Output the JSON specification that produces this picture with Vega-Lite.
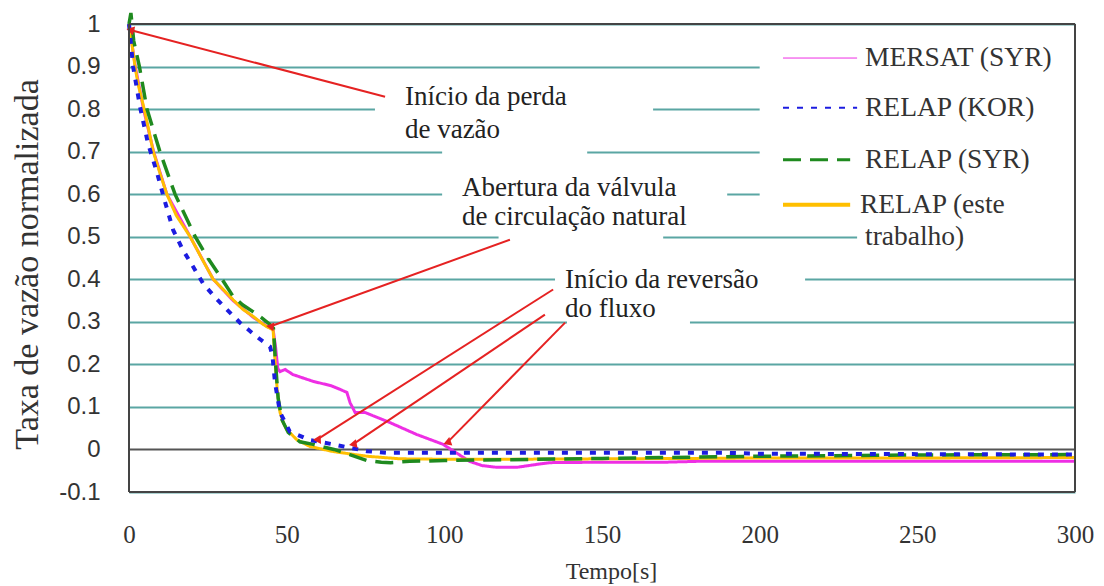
{
  "$schema": "https://vega.github.io/schema/vega-lite/v6.json",
  "width": 946,
  "height": 468,
  "autosize": {"type": "none"},
  "padding": {"left": 129, "top": 24, "right": 29, "bottom": 94},
  "background": "white",
  "config": {"view": {"stroke": null}},
  "datasets": {
    "curves": [
      {"s": "MERSAT (SYR)", "t": 0, "v": 1.0},
      {"s": "MERSAT (SYR)", "t": 2, "v": 0.9},
      {"s": "MERSAT (SYR)", "t": 4.6, "v": 0.8},
      {"s": "MERSAT (SYR)", "t": 7.8, "v": 0.7},
      {"s": "MERSAT (SYR)", "t": 12, "v": 0.6},
      {"s": "MERSAT (SYR)", "t": 19.4, "v": 0.5},
      {"s": "MERSAT (SYR)", "t": 26.7, "v": 0.4},
      {"s": "MERSAT (SYR)", "t": 33, "v": 0.35},
      {"s": "MERSAT (SYR)", "t": 39.5, "v": 0.31},
      {"s": "MERSAT (SYR)", "t": 43.6, "v": 0.29},
      {"s": "MERSAT (SYR)", "t": 45.7, "v": 0.282},
      {"s": "MERSAT (SYR)", "t": 46.5, "v": 0.24},
      {"s": "MERSAT (SYR)", "t": 47.2, "v": 0.19},
      {"s": "MERSAT (SYR)", "t": 47.9, "v": 0.183},
      {"s": "MERSAT (SYR)", "t": 49.5, "v": 0.188},
      {"s": "MERSAT (SYR)", "t": 52, "v": 0.176},
      {"s": "MERSAT (SYR)", "t": 58.4, "v": 0.16},
      {"s": "MERSAT (SYR)", "t": 64, "v": 0.15},
      {"s": "MERSAT (SYR)", "t": 67, "v": 0.141},
      {"s": "MERSAT (SYR)", "t": 69.1, "v": 0.134},
      {"s": "MERSAT (SYR)", "t": 70.1, "v": 0.11},
      {"s": "MERSAT (SYR)", "t": 71.7, "v": 0.087},
      {"s": "MERSAT (SYR)", "t": 74.8, "v": 0.087},
      {"s": "MERSAT (SYR)", "t": 82.8, "v": 0.063},
      {"s": "MERSAT (SYR)", "t": 91.3, "v": 0.035},
      {"s": "MERSAT (SYR)", "t": 99.6, "v": 0.012},
      {"s": "MERSAT (SYR)", "t": 104, "v": -0.009},
      {"s": "MERSAT (SYR)", "t": 108, "v": -0.028},
      {"s": "MERSAT (SYR)", "t": 112, "v": -0.038},
      {"s": "MERSAT (SYR)", "t": 116.7, "v": -0.042},
      {"s": "MERSAT (SYR)", "t": 123, "v": -0.042},
      {"s": "MERSAT (SYR)", "t": 129.4, "v": -0.035},
      {"s": "MERSAT (SYR)", "t": 133.5, "v": -0.031},
      {"s": "MERSAT (SYR)", "t": 150, "v": -0.03},
      {"s": "MERSAT (SYR)", "t": 170, "v": -0.03},
      {"s": "MERSAT (SYR)", "t": 180, "v": -0.028},
      {"s": "MERSAT (SYR)", "t": 300, "v": -0.028},
      {"s": "RELAP (este trabalho)", "t": 0, "v": 1.0},
      {"s": "RELAP (este trabalho)", "t": 1, "v": 0.95},
      {"s": "RELAP (este trabalho)", "t": 2, "v": 0.895},
      {"s": "RELAP (este trabalho)", "t": 3, "v": 0.855},
      {"s": "RELAP (este trabalho)", "t": 4.5, "v": 0.81},
      {"s": "RELAP (este trabalho)", "t": 6, "v": 0.76},
      {"s": "RELAP (este trabalho)", "t": 7.7, "v": 0.7},
      {"s": "RELAP (este trabalho)", "t": 10, "v": 0.645},
      {"s": "RELAP (este trabalho)", "t": 12, "v": 0.6},
      {"s": "RELAP (este trabalho)", "t": 15, "v": 0.55},
      {"s": "RELAP (este trabalho)", "t": 19.4, "v": 0.5},
      {"s": "RELAP (este trabalho)", "t": 23, "v": 0.45},
      {"s": "RELAP (este trabalho)", "t": 26.7, "v": 0.4},
      {"s": "RELAP (este trabalho)", "t": 30, "v": 0.375},
      {"s": "RELAP (este trabalho)", "t": 33, "v": 0.352},
      {"s": "RELAP (este trabalho)", "t": 36, "v": 0.33},
      {"s": "RELAP (este trabalho)", "t": 39.5, "v": 0.312},
      {"s": "RELAP (este trabalho)", "t": 42, "v": 0.297},
      {"s": "RELAP (este trabalho)", "t": 43.6, "v": 0.289},
      {"s": "RELAP (este trabalho)", "t": 45.7, "v": 0.281},
      {"s": "RELAP (este trabalho)", "t": 46.3, "v": 0.21},
      {"s": "RELAP (este trabalho)", "t": 47, "v": 0.141},
      {"s": "RELAP (este trabalho)", "t": 47.9, "v": 0.087},
      {"s": "RELAP (este trabalho)", "t": 49, "v": 0.062},
      {"s": "RELAP (este trabalho)", "t": 50, "v": 0.047},
      {"s": "RELAP (este trabalho)", "t": 53.2, "v": 0.023},
      {"s": "RELAP (este trabalho)", "t": 57.4, "v": 0.007},
      {"s": "RELAP (este trabalho)", "t": 64.8, "v": -0.005},
      {"s": "RELAP (este trabalho)", "t": 75.5, "v": -0.016},
      {"s": "RELAP (este trabalho)", "t": 86, "v": -0.022},
      {"s": "RELAP (este trabalho)", "t": 100, "v": -0.023},
      {"s": "RELAP (este trabalho)", "t": 120, "v": -0.023},
      {"s": "RELAP (este trabalho)", "t": 150, "v": -0.022},
      {"s": "RELAP (este trabalho)", "t": 180, "v": -0.021},
      {"s": "RELAP (este trabalho)", "t": 200, "v": -0.02},
      {"s": "RELAP (este trabalho)", "t": 250, "v": -0.02},
      {"s": "RELAP (este trabalho)", "t": 300, "v": -0.019},
      {"s": "RELAP (SYR)", "t": 0, "v": 1.0},
      {"s": "RELAP (SYR)", "t": 0.6, "v": 1.026},
      {"s": "RELAP (SYR)", "t": 1.5, "v": 0.96},
      {"s": "RELAP (SYR)", "t": 3.3, "v": 0.9},
      {"s": "RELAP (SYR)", "t": 5.7, "v": 0.8},
      {"s": "RELAP (SYR)", "t": 9.8, "v": 0.7},
      {"s": "RELAP (SYR)", "t": 14.6, "v": 0.6},
      {"s": "RELAP (SYR)", "t": 21, "v": 0.5},
      {"s": "RELAP (SYR)", "t": 25, "v": 0.45},
      {"s": "RELAP (SYR)", "t": 29.5, "v": 0.4},
      {"s": "RELAP (SYR)", "t": 33, "v": 0.36},
      {"s": "RELAP (SYR)", "t": 36, "v": 0.34},
      {"s": "RELAP (SYR)", "t": 39.3, "v": 0.324},
      {"s": "RELAP (SYR)", "t": 42, "v": 0.31},
      {"s": "RELAP (SYR)", "t": 44.5, "v": 0.295},
      {"s": "RELAP (SYR)", "t": 45.8, "v": 0.285},
      {"s": "RELAP (SYR)", "t": 46.5, "v": 0.2},
      {"s": "RELAP (SYR)", "t": 47.3, "v": 0.12},
      {"s": "RELAP (SYR)", "t": 48.5, "v": 0.07},
      {"s": "RELAP (SYR)", "t": 50.5, "v": 0.04},
      {"s": "RELAP (SYR)", "t": 54.2, "v": 0.018},
      {"s": "RELAP (SYR)", "t": 58.4, "v": 0.012},
      {"s": "RELAP (SYR)", "t": 62, "v": 0.005},
      {"s": "RELAP (SYR)", "t": 65, "v": 0.0},
      {"s": "RELAP (SYR)", "t": 70, "v": -0.012},
      {"s": "RELAP (SYR)", "t": 75.5, "v": -0.026},
      {"s": "RELAP (SYR)", "t": 80, "v": -0.03},
      {"s": "RELAP (SYR)", "t": 83, "v": -0.031},
      {"s": "RELAP (SYR)", "t": 89, "v": -0.028},
      {"s": "RELAP (SYR)", "t": 100, "v": -0.026},
      {"s": "RELAP (SYR)", "t": 120, "v": -0.024},
      {"s": "RELAP (SYR)", "t": 150, "v": -0.021},
      {"s": "RELAP (SYR)", "t": 200, "v": -0.016},
      {"s": "RELAP (SYR)", "t": 250, "v": -0.013},
      {"s": "RELAP (SYR)", "t": 300, "v": -0.012},
      {"s": "RELAP (KOR)", "t": 0, "v": 1.0},
      {"s": "RELAP (KOR)", "t": 1.3, "v": 0.9},
      {"s": "RELAP (KOR)", "t": 3.5, "v": 0.805},
      {"s": "RELAP (KOR)", "t": 6, "v": 0.72},
      {"s": "RELAP (KOR)", "t": 8.9, "v": 0.65},
      {"s": "RELAP (KOR)", "t": 11.5, "v": 0.58},
      {"s": "RELAP (KOR)", "t": 14, "v": 0.516},
      {"s": "RELAP (KOR)", "t": 17, "v": 0.47},
      {"s": "RELAP (KOR)", "t": 20.3, "v": 0.43},
      {"s": "RELAP (KOR)", "t": 23.5, "v": 0.39},
      {"s": "RELAP (KOR)", "t": 27, "v": 0.36},
      {"s": "RELAP (KOR)", "t": 31, "v": 0.329},
      {"s": "RELAP (KOR)", "t": 35.2, "v": 0.298},
      {"s": "RELAP (KOR)", "t": 40.5, "v": 0.265},
      {"s": "RELAP (KOR)", "t": 44.7, "v": 0.242},
      {"s": "RELAP (KOR)", "t": 45.5, "v": 0.22},
      {"s": "RELAP (KOR)", "t": 46.3, "v": 0.157},
      {"s": "RELAP (KOR)", "t": 47.9, "v": 0.087},
      {"s": "RELAP (KOR)", "t": 51, "v": 0.042},
      {"s": "RELAP (KOR)", "t": 57.4, "v": 0.022},
      {"s": "RELAP (KOR)", "t": 64.8, "v": 0.012},
      {"s": "RELAP (KOR)", "t": 70, "v": 0.004},
      {"s": "RELAP (KOR)", "t": 75.5, "v": -0.004},
      {"s": "RELAP (KOR)", "t": 81.8, "v": -0.008},
      {"s": "RELAP (KOR)", "t": 100, "v": -0.008},
      {"s": "RELAP (KOR)", "t": 130, "v": -0.008},
      {"s": "RELAP (KOR)", "t": 190, "v": -0.008},
      {"s": "RELAP (KOR)", "t": 200, "v": -0.01},
      {"s": "RELAP (KOR)", "t": 250, "v": -0.011},
      {"s": "RELAP (KOR)", "t": 300, "v": -0.012}
    ],
    "masks": [
      {"t0": 200, "t1": 300, "v0": 0.53, "v1": 0.975},
      {"t0": 230.9, "t1": 300, "v0": 0.47, "v1": 0.53},
      {"t0": 78, "t1": 166.2, "v0": 0.77, "v1": 0.83},
      {"t0": 99.3, "t1": 145.3, "v0": 0.67, "v1": 0.73},
      {"t0": 99.3, "t1": 189.7, "v0": 0.57, "v1": 0.63},
      {"t0": 117.2, "t1": 169.4, "v0": 0.47, "v1": 0.53},
      {"t0": 135.1, "t1": 214.4, "v0": 0.37, "v1": 0.43},
      {"t0": 138.9, "t1": 177.9, "v0": 0.27, "v1": 0.33}
    ],
    "arrows": [
      {"id": "a1", "t0": 81.2, "v0": 0.829, "t1": 0.4, "v1": 0.986},
      {"id": "a2", "t0": 120.8, "v0": 0.493, "t1": 44.7, "v1": 0.289},
      {"id": "a3", "t0": 134.5, "v0": 0.376, "t1": 59.6, "v1": 0.023},
      {"id": "a4", "t0": 131.9, "v0": 0.317, "t1": 71, "v1": 0.012},
      {"id": "a5", "t0": 138.3, "v0": 0.298, "t1": 100.9, "v1": 0.016}
    ],
    "notes": [
      {"text": "Início da perda", "t": 87.5, "v": 0.829},
      {"text": "de vazão", "t": 87.5, "v": 0.751},
      {"text": "Abertura da válvula", "t": 105.6, "v": 0.615},
      {"text": "de circulação natural", "t": 105.6, "v": 0.547},
      {"text": "Início da reversão", "t": 138.3, "v": 0.399},
      {"text": "do fluxo", "t": 138.3, "v": 0.329}
    ],
    "legendLines": [
      {"s": "MERSAT (SYR)", "t0": 207.4, "t1": 230.9, "v": 0.92},
      {"s": "RELAP (KOR)", "t0": 207.4, "t1": 230.9, "v": 0.803},
      {"s": "RELAP (SYR)", "t0": 207.4, "t1": 228.7, "v": 0.681},
      {"s": "RELAP (este trabalho)", "t0": 207.4, "t1": 228.7, "v": 0.575}
    ],
    "legendText": [
      {"text": "MERSAT (SYR)", "t": 233.4, "v": 0.92},
      {"text": "RELAP (KOR)", "t": 233.4, "v": 0.803},
      {"text": "RELAP (SYR)", "t": 233.4, "v": 0.681},
      {"text": "RELAP  (este", "t": 231.8, "v": 0.575},
      {"text": "trabalho)", "t": 233.4, "v": 0.5}
    ],
    "frameX": [{"t": 0}, {"t": 300}],
    "frameY": [{"v": 1}, {"v": -0.1}]
  },
  "layer": [
    {
      "data": {"name": "masks"},
      "mark": {"type": "rect", "fill": "white"},
      "encoding": {
        "x": {
          "field": "t0", "type": "quantitative",
          "scale": {"domain": [0, 300], "nice": false, "zero": false},
          "axis": {
            "title": "Tempo[s]",
            "values": [0, 50, 100, 150, 200, 250, 300],
            "grid": false, "domain": false, "ticks": false, "tickSize": 0,
            "labelFont": "Liberation Serif", "labelFontSize": 25, "labelColor": "#333333",
            "labelPadding": 30, "labelFlush": false, "labelOverlap": false,
            "titleFont": "Liberation Serif", "titleFontSize": 24, "titleFontWeight": "normal",
            "titleColor": "#333333", "titleX": 482, "titleY": 86, "titleBaseline": "alphabetic"
          }
        },
        "x2": {"field": "t1"},
        "y": {
          "field": "v0", "type": "quantitative",
          "scale": {"domain": [-0.1, 1], "nice": false, "zero": false},
          "axis": {
            "title": "Taxa de vazão normalizada",
            "values": [-0.1, 0, 0.1, 0.2, 0.3, 0.4, 0.5, 0.6, 0.7, 0.8, 0.9, 1],
            "grid": true,
            "gridColor": {"condition": {"test": "datum.value === 0", "value": "#555555"}, "value": "#5aa6a3"},
            "gridWidth": 2,
            "domain": false, "ticks": false, "tickSize": 0,
            "labelFont": "Liberation Sans", "labelFontSize": 24, "labelColor": "#333333",
            "labelPadding": 29, "labelOverlap": false,
            "labelExpr": "replace(format(datum.value, '.1~f'), '\u2212', '-')",
            "titleFont": "Liberation Serif", "titleFontSize": 34, "titleFontWeight": "normal",
            "titleColor": "#333333", "titleX": -92, "titleY": 240, "titleBaseline": "alphabetic", "titleAngle": -90
          }
        },
        "y2": {"field": "v1"}
      }
    },
    {
      "data": {"name": "curves"},
      "mark": {"type": "line", "strokeCap": "butt"},
      "encoding": {
        "x": {"field": "t", "type": "quantitative"},
        "y": {"field": "v", "type": "quantitative"},
        "color": {
          "field": "s", "type": "nominal",
          "scale": {
            "domain": ["MERSAT (SYR)", "RELAP (KOR)", "RELAP (SYR)", "RELAP (este trabalho)"],
            "range": ["#ee2ee4", "#1c1ce0", "#1f8a1f", "#ffbf00"]
          },
          "legend": null
        },
        "strokeDash": {
          "field": "s", "type": "nominal",
          "scale": {
            "domain": ["MERSAT (SYR)", "RELAP (KOR)", "RELAP (SYR)", "RELAP (este trabalho)"],
            "range": [[1, 0], [6, 8], [18, 9], [1, 0]]
          },
          "legend": null
        },
        "strokeWidth": {
          "field": "s", "type": "nominal",
          "scale": {
            "type": "ordinal",
            "domain": ["MERSAT (SYR)", "RELAP (KOR)", "RELAP (SYR)", "RELAP (este trabalho)"],
            "range": [3, 4, 3.5, 3]
          },
          "legend": null
        },
        "order": {"field": "t", "type": "quantitative"}
      }
    },
    {
      "data": {"name": "arrows"},
      "mark": {"type": "rule", "color": "#e52222", "strokeWidth": 2},
      "encoding": {
        "x": {"field": "t0", "type": "quantitative"},
        "y": {"field": "v0", "type": "quantitative"},
        "x2": {"field": "t1"},
        "y2": {"field": "v1"}
      }
    },
    {
      "data": {"name": "arrows"},
      "mark": {"type": "point", "shape": "triangle-up", "filled": true, "color": "#e52222", "opacity": 1, "size": 80},
      "encoding": {
        "x": {"field": "t1", "type": "quantitative"},
        "y": {"field": "v1", "type": "quantitative"},
        "angle": {
          "field": "id", "type": "nominal",
          "scale": {"domain": ["a1", "a2", "a3", "a4", "a5"], "range": [284.7, 250.1, 237.6, 235.9, 224.5]},
          "legend": null
        }
      }
    },
    {
      "data": {"name": "notes"},
      "mark": {"type": "text", "align": "left", "baseline": "middle", "font": "Liberation Serif", "fontSize": 27, "color": "#222222"},
      "encoding": {
        "x": {"field": "t", "type": "quantitative"},
        "y": {"field": "v", "type": "quantitative"},
        "text": {"field": "text"}
      }
    },
    {
      "data": {"name": "legendLines"},
      "mark": {"type": "rule", "strokeCap": "butt"},
      "encoding": {
        "x": {"field": "t0", "type": "quantitative"},
        "x2": {"field": "t1"},
        "y": {"field": "v", "type": "quantitative"},
        "color": {"field": "s", "type": "nominal", "legend": null},
        "strokeDash": {"field": "s", "type": "nominal", "legend": null},
        "strokeWidth": {"field": "s", "type": "nominal", "legend": null}
      }
    },
    {
      "data": {"name": "legendText"},
      "mark": {"type": "text", "align": "left", "baseline": "middle", "font": "Liberation Serif", "fontSize": 27.5, "color": "#333333"},
      "encoding": {
        "x": {"field": "t", "type": "quantitative"},
        "y": {"field": "v", "type": "quantitative"},
        "text": {"field": "text"}
      }
    },
    {
      "data": {"name": "frameX"},
      "mark": {"type": "rule", "color": "#444444", "strokeWidth": 2},
      "encoding": {"x": {"field": "t", "type": "quantitative"}}
    },
    {
      "data": {"name": "frameY"},
      "mark": {"type": "rule", "color": "#444444", "strokeWidth": 2},
      "encoding": {"y": {"field": "v", "type": "quantitative"}}
    }
  ]
}
